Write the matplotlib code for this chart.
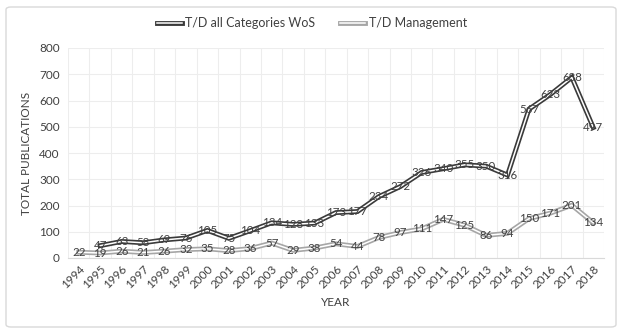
import numpy as np
import matplotlib.pyplot as plt
from matplotlib.lines import Line2D
from matplotlib.patches import FancyBboxPatch
import matplotlib.patheffects as pe

years = [str(y) for y in range(1994, 2019)]
all_wos = [None, 47, 63, 58, 69, 76, 105, 75, 104, 134, 128, 133, 173, 177,
           234, 272, 326, 340, 355, 350, 316, 567, 623, 688, 497]
management = [22, 19, 26, 21, 26, 32, 35, 28, 36, 57, 29, 38, 54, 44,
              78, 97, 111, 147, 125, 86, 94, 150, 171, 201, 134]

plt.rcParams['font.family'] = ['Lato', 'DejaVu Sans']
txt = '#404040'

fig = plt.figure(figsize=(6.24, 3.33), dpi=100)
ax = fig.add_axes([68 / 624, 1 - 258 / 333, 536 / 624, 210 / 333])

fig.patches.append(FancyBboxPatch((6 / 624, 6 / 333), 610 / 624, 320 / 333,
                                  boxstyle='round,pad=0,rounding_size=0.008',
                                  transform=fig.transFigure, fill=False,
                                  edgecolor='#d9d9d9', linewidth=1))

x = np.arange(len(years))
wos = np.array([np.nan if v is None else v for v in all_wos], dtype=float)
mgt = np.array(management, dtype=float)


def double_line(y, color):
    ax.plot(x, y, color=color, linewidth=3.5, solid_joinstyle='miter', zorder=3)
    ax.plot(x, y, color='white', linewidth=1.1, solid_joinstyle='miter', zorder=4)


double_line(wos, '#3a3a3a')
double_line(mgt, '#a6a6a6')

for xi, v in zip(x, all_wos):
    if v is not None:
        ax.text(xi, v, str(v), ha='center', va='center', fontsize=8.3, color=txt, zorder=5)
for xi, v in zip(x, management):
    ax.text(xi, v, str(v), ha='center', va='center', fontsize=8.3, color=txt, zorder=5)

ax.set_xlim(-0.5, len(years) - 0.5)
ax.set_ylim(0, 800)
ax.set_yticks(range(0, 801, 100))
ax.set_xticks(x)
ax.set_xticklabels(years, rotation=45, ha='right', rotation_mode='anchor')
ax.set_xticks(np.arange(-0.5, len(years)), minor=True)
ax.tick_params(axis='both', which='both', length=0, labelsize=8.5, labelcolor=txt)
ax.tick_params(axis='x', pad=4)
ax.tick_params(axis='y', pad=6)
ax.grid(False)
ax.grid(True, axis='y', which='major', color='#ededed', linewidth=0.8)
ax.grid(True, axis='x', which='minor', color='#ededed', linewidth=0.8)
ax.set_axisbelow(True)
for s in ['top', 'right', 'left']:
    ax.spines[s].set_visible(False)
ax.spines['bottom'].set_color('#d9d9d9')

fig.text(27 / 624, 1 - 153 / 333, 'TOTAL PUBLICATIONS', rotation=90, ha='center',
         va='center', fontsize=8.5, color=txt)
fig.text(336 / 624, 1 - 303 / 333, 'YEAR', ha='center', va='center',
         fontsize=8.5, color=txt)

h1 = Line2D([], [], color='white', linewidth=1.1,
            path_effects=[pe.Stroke(linewidth=3.5, foreground='#3a3a3a'), pe.Normal()])
h2 = Line2D([], [], color='white', linewidth=1.1,
            path_effects=[pe.Stroke(linewidth=3.5, foreground='#a6a6a6'), pe.Normal()])
fig.legend([h1, h2], ['T/D all Categories WoS', 'T/D Management'], loc='center',
           bbox_to_anchor=(312 / 624, 1 - 23 / 333), ncol=2, frameon=False,
           fontsize=9, labelcolor=txt, handlelength=2.0, handletextpad=0.3,
           columnspacing=2.0)

fig.savefig('out.png', dpi=100)
